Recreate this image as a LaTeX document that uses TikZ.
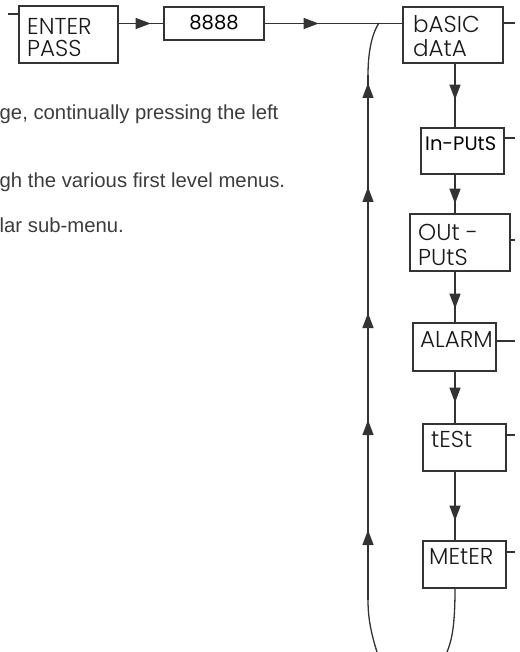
\documentclass[tikz,border=0pt]{standalone}
\usepackage{fontspec}
\setmainfont{Liberation Sans}
\newfontfamily\glight{Poppins Light}
\newfontfamily\gregular{Poppins}
\usetikzlibrary{arrows.meta,decorations.markings}
\definecolor{ink}{HTML}{333333}
\definecolor{para}{HTML}{3C3C3C}
\tikzset{
  box/.style={draw=ink, line width=1.3pt, rectangle, inner sep=0pt},
  lbl/.style={inner sep=0pt, anchor=base west, text=black!90, font=\glight\fontsize{23}{23}\selectfont},
  lblb/.style={inner sep=0pt, anchor=base west, text=black, font=\gregular\fontsize{19.5}{19.5}\selectfont},
  ptext/.style={inner sep=0pt, anchor=base west, text=para, font=\fontsize{20.3}{20.3}\selectfont},
  conn/.style={draw=ink, line width=1.3pt},
  midarrow/.style={postaction={decorate}, decoration={markings, mark=at position #1 with {\arrow{Triangle[length=15pt,width=11pt]}}}}
}
\begin{document}
\begin{tikzpicture}[x=1pt,y=-1pt]
\useasboundingbox (0,0) rectangle (519,652);
% boxes
\node[box, minimum width=99pt, minimum height=57pt] (enter) at (68.5,34.5) {};
\node[box, minimum width=100pt, minimum height=33pt] (code) at (214,23.5) {};
\node[box, minimum width=100pt, minimum height=56pt] (basic) at (453,35) {};
\node[box, minimum width=83pt, minimum height=46pt] (inputs) at (462.5,151) {};
\node[box, minimum width=100pt, minimum height=57pt] (outputs) at (460,242.5) {};
\node[box, minimum width=83pt, minimum height=48pt] (alarm) at (454.5,347) {};
\node[box, minimum width=83pt, minimum height=47pt] (test) at (464.5,447.5) {};
\node[box, minimum width=83pt, minimum height=47pt] (meter) at (464.5,564.5) {};
% labels
\node[lbl] (t1) at (27,35) {ENTER};
\node[lbl] (t2) at (27,57) {PASS};
\node[lblb, anchor=base] (t3) at (214,29.5) {8888};
\node[lbl] (t4) at (413,33) {bASIC};
\node[lbl] (t5) at (413,57) {dAtA};
\node[lblb] (t6) at (425,150.5) {In-PUtS};
\node[lbl] (t7) at (418,240) {OUt -};
\node[lbl] (t8) at (418,265) {PUtS};
\node[lbl] (t9) at (420,347) {ALARM};
\node[lbl] (t10) at (431,447) {tESt};
\node[lbl] (t11) at (429,564) {MEtER};
% paragraph fragments
\node[ptext] (p1) at (-0.5,120) {ge, continually pressing the left};
\node[ptext] (p2) at (-0.5,188) {gh the various first level menus.};
\node[ptext] (p3) at (-0.5,232) {lar sub-menu.};
% coordinates
\coordinate (s0) at (8,14);
\coordinate (spine) at (455,0);
\coordinate (rstub) at (515,0);
\coordinate (join) at (379,23);
\coordinate (ltop) at (368,75);
\coordinate (lbot) at (368,600);
\coordinate (lend) at (377,652);
\coordinate (mend) at (447,652);
% top row connectors
\draw[conn] (s0) -- (s0 -| enter.west);
\draw[conn, midarrow=32pt] (enter.east |- code.west) -- (code.west);
\draw[conn, midarrow=54pt] (code.east) -- (code.east -| basic.west);
% right stubs
\draw[conn] (basic.east |- 0,23) -- (rstub |- 0,23);
\draw[conn] (inputs.east |- 0,138) -- (rstub |- 0,138);
\draw[conn] (outputs.east |- 0,240) -- (rstub |- 0,240);
\draw[conn] (alarm.east |- 0,341) -- (rstub |- 0,341);
\draw[conn] (test.east |- 0,435) -- (rstub |- 0,435);
\draw[conn] (meter.east |- 0,552) -- (rstub |- 0,552);
% spine
\draw[conn, midarrow=36pt] (spine |- basic.south) -- (spine |- inputs.north);
\draw[conn, midarrow=29pt] (spine |- inputs.south) -- (spine |- outputs.north);
\draw[conn, midarrow=37pt] (spine |- outputs.south) -- (spine |- alarm.north);
\draw[conn, midarrow=31pt] (spine |- alarm.south) -- (spine |- test.north);
\draw[conn, midarrow=49pt] (spine |- test.south) -- (spine |- meter.north);
\draw[conn] (spine |- meter.south) .. controls (455,625) and (452,640) .. (mend);
% return loop
\draw[conn] (lend) .. controls (370,630) and (368,615) .. (lbot);
\draw[conn, postaction={decorate}, decoration={markings,
  mark=at position 70pt with {\arrow{Triangle[length=15pt,width=11pt]}},
  mark=at position 180pt with {\arrow{Triangle[length=15pt,width=11pt]}},
  mark=at position 287pt with {\arrow{Triangle[length=15pt,width=11pt]}},
  mark=at position 413pt with {\arrow{Triangle[length=15pt,width=11pt]}},
  mark=at position 517pt with {\arrow{Triangle[length=15pt,width=11pt]}}}]
  (lbot) -- (ltop);
\draw[conn] (ltop) .. controls (368,55) and (371,35) .. (join);
\end{tikzpicture}
\end{document}
